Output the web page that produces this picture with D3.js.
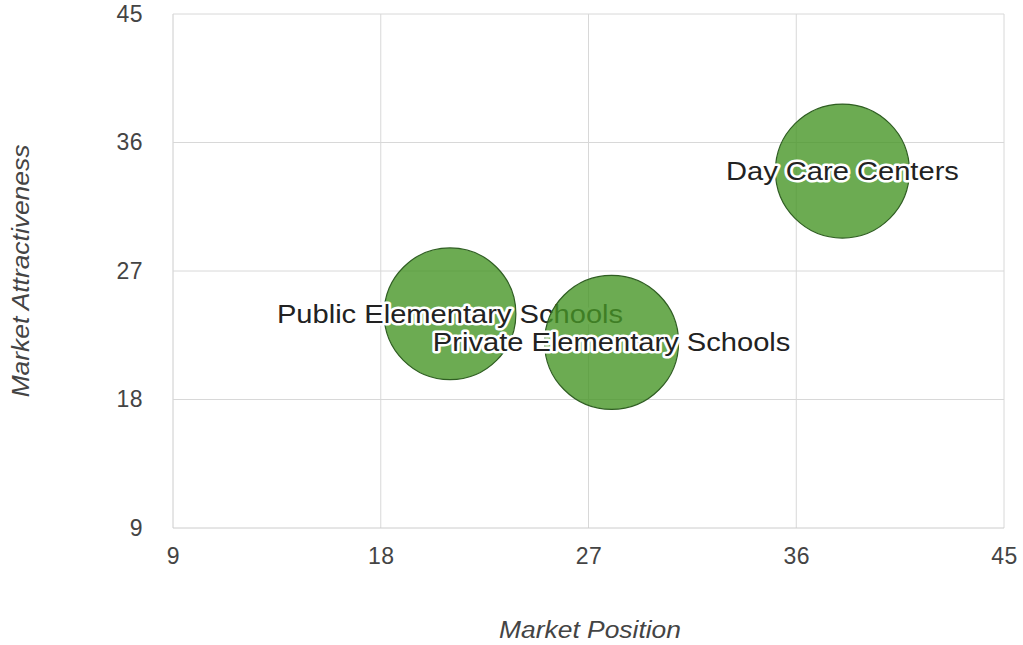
<!DOCTYPE html>
<html><head><meta charset="utf-8">
<script src="https://cdn.jsdelivr.net/npm/d3@7"></script>
<style>body{margin:0;background:#fff}svg{display:block}</style>
</head><body>
<svg id="c" width="1023" height="645"></svg>
<script>
const names = ["Day Care Centers", "Public Elementary Schools", "Private Elementary Schools"];
const positions = [38, 21, 28];
const attractiveness = [34, 24, 22];
const sizes = [30, 29, 30];
const ticks = [9, 18, 27, 36, 45];

const svg = d3.select("#c");
const L = 173, R = 1004, T = 14, B = 528;
const x = d3.scaleLinear().domain([9, 45]).range([L, R]);
const y = d3.scaleLinear().domain([9, 45]).range([B, T]);
const r = d3.scaleSqrt().domain([0, 30]).range([0, 67]);
const font = "'Liberation Sans', Arial, Helvetica, sans-serif";

// gridlines
svg.append("g").selectAll("line").data(ticks).join("line")
  .attr("x1", d => x(d)).attr("x2", d => x(d)).attr("y1", T).attr("y2", B)
  .attr("stroke", d => d === 9 ? "#cccccc" : "#d8d8d8").attr("stroke-width", 1);
svg.append("g").selectAll("line").data(ticks).join("line")
  .attr("y1", d => y(d)).attr("y2", d => y(d)).attr("x1", L).attr("x2", R)
  .attr("stroke", d => d === 9 ? "#cccccc" : "#d8d8d8").attr("stroke-width", 1);

// axes
const xAxis = d3.axisBottom(x).tickValues(ticks).tickSize(0).tickPadding(20);
const gx = svg.append("g").attr("transform", `translate(0,${B})`).call(xAxis);
gx.select(".domain").remove();
gx.selectAll("text").attr("font-family", font).attr("font-size", 23).attr("letter-spacing", 0.5).attr("fill", "#444");

const yAxis = d3.axisLeft(y).tickValues(ticks).tickSize(0).tickPadding(30);
const gy = svg.append("g").attr("transform", `translate(${L},0)`).call(yAxis);
gy.select(".domain").remove();
gy.selectAll("text").attr("font-family", font).attr("font-size", 23).attr("letter-spacing", 0.5).attr("fill", "#444");

// axis titles
svg.append("text").attr("transform", "translate(590,638) scale(1.1,1)")
  .attr("text-anchor", "middle").attr("font-family", font).attr("font-style", "italic")
  .attr("font-size", 24).attr("fill", "#444").text("Market Position");
svg.append("text").attr("transform", `translate(29,${(T + B) / 2}) rotate(-90) scale(1.1,1)`)
  .attr("text-anchor", "middle").attr("font-family", font).attr("font-style", "italic")
  .attr("font-size", 24).attr("fill", "#444").text("Market Attractiveness");

const data = names.map((n, i) => ({ n, px: positions[i], py: attractiveness[i], s: sizes[i] }));

// each bubble followed by its label (later bubbles cover earlier labels)
const items = svg.append("g").selectAll("g.item").data(data).join("g").attr("class", "item");
items.append("circle")
  .attr("cx", d => x(d.px)).attr("cy", d => y(d.py)).attr("r", d => r(d.s))
  .attr("fill", "#479627").attr("fill-opacity", 0.8)
  .attr("stroke", "#2f5e22").attr("stroke-width", 1.2);
items.append("text")
  .attr("transform", d => `translate(${x(d.px)},${y(d.py)}) scale(1.12,1)`).attr("dy", "0.35em")
  .attr("text-anchor", "middle").attr("font-family", font).attr("font-size", 26)
  .attr("fill", "none").attr("stroke", "#fff").attr("stroke-width", 5).attr("stroke-linejoin", "round")
  .text(d => d.n);
items.append("text")
  .attr("transform", d => `translate(${x(d.px)},${y(d.py)}) scale(1.12,1)`).attr("dy", "0.35em")
  .attr("text-anchor", "middle").attr("font-family", font).attr("font-size", 26)
  .attr("fill", "#222").text(d => d.n);
</script>
</body></html>
